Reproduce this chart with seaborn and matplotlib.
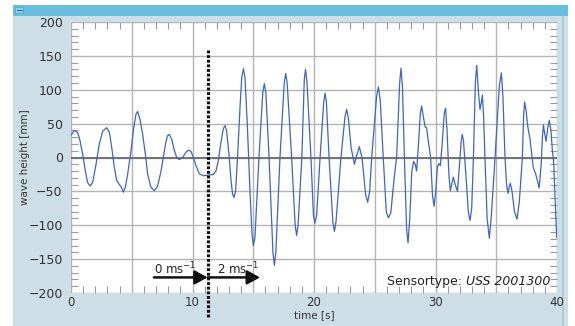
import numpy as np
import pandas as pd
import matplotlib
matplotlib.use("Agg")
import matplotlib.pyplot as plt
import seaborn as sns
from matplotlib.patches import Rectangle
from matplotlib.lines import Line2D
from matplotlib.ticker import MultipleLocator, FuncFormatter

# ---------------- data ----------------
time_s = [0.0, 0.27, 0.55, 0.74, 0.96, 1.18, 1.37, 1.56, 1.78, 2.06, 2.33, 2.61, 2.94, 3.16, 3.35,
          3.57, 3.76, 3.98, 4.12, 4.31, 4.47, 4.66, 4.94, 5.16, 5.35, 5.49, 5.68, 5.90, 6.12, 6.31,
          6.58, 6.86, 7.13, 7.41, 7.60, 7.80, 7.94, 8.09, 8.29, 8.48, 8.70, 8.92, 9.19, 9.47, 9.66,
          9.88, 10.07, 10.29, 10.56, 10.89, 11.30, 11.71, 11.93, 12.12, 12.32, 12.54, 12.68, 12.81,
          13.00, 13.17, 13.30, 13.42, 13.55, 13.72, 13.91, 14.05, 14.19, 14.32, 14.51, 14.73, 14.90,
          15.01, 15.14, 15.47, 15.78, 15.91, 16.04, 16.30, 16.62, 16.74, 16.86, 17.20, 17.55, 17.67,
          17.79, 18.16, 18.45, 18.57, 18.69, 19.00, 19.20, 19.30, 19.42, 19.75, 19.95, 20.08, 20.22,
          20.50, 20.80, 20.91, 21.02, 21.24, 21.55, 21.68, 21.81, 22.22, 22.55, 22.69, 22.83, 23.05,
          23.33, 23.50, 23.73, 23.95, 24.25, 24.42, 24.58, 24.75, 25.15, 25.30, 25.45, 25.70, 25.95,
          26.12, 26.32, 26.60, 26.80, 27.05, 27.16, 27.28, 27.44, 27.62, 27.74, 27.88, 28.05, 28.20,
          28.33, 28.45, 28.60, 28.75, 28.86, 29.00, 29.15, 29.27, 29.40, 29.60, 29.75, 29.88, 30.02,
          30.15, 30.28, 30.40, 30.55, 30.72, 30.83, 30.95, 31.10, 31.22, 31.35, 31.47, 31.62, 31.81,
          32.00, 32.12, 32.20, 32.30, 32.50, 32.70, 32.84, 32.98, 33.12, 33.28, 33.39, 33.52, 33.66,
          33.76, 33.86, 33.96, 34.07, 34.25, 34.43, 34.58, 34.90, 35.25, 35.42, 35.55, 35.72, 35.85,
          35.97, 36.08, 36.16, 36.30, 36.50, 36.71, 36.90, 37.15, 37.25, 37.33, 37.45, 37.60, 37.78,
          37.92, 38.05, 38.24, 38.40, 38.53, 38.70, 38.80, 38.88, 38.98, 39.10, 39.25, 39.37, 39.50,
          39.62, 39.72, 39.84, 39.97, 40.00]
wave_mm = [33, 40, 37, 25, 5, -20, -37, -42, -37, -10, 20, 39, 44, 37, 15,
           -15, -34, -40, -43, -51, -44, -25, 10, 44, 64, 68, 56, 34, 5, -25,
           -44, -49, -42, -20, 0, 22, 32, 34, 27, 12, 0, -3, 0, 8, 11,
           9, 0, -12, -24, -27, -26, -25, -20, -5, 20, 43, 47, 39,
           5, -34, -54, -59, -49, 5, 74, 118, 131, 118, 49, -49, -113,
           -130, -118, 0, 95, 109, 95, 0, -140, -159, -140, 0, 110, 124,
           110, 0, -100, -115, -100, 0, 115, 130, 112, 0, -85, -97, -85,
           0, 82, 95, 82, 0, -95, -109, -95, 0, 60, 71, 58, 15,
           -10, 2, 16, 0, -55, -66, -50, 0, 90, 104, 85, 0, -80,
           -89, -82, -30, 0, 110, 132, 105, 0, -105, -126, -90, -20, -6,
           -10, -20, 20, 65, 76, 60, 45, 44, 25, 0, -55, -72, -50,
           -15, -9, -12, 20, 65, 73, 40, -25, -49, -38, -29, -40, -50,
           -5, 25, 34, 25, -25, -80, -93, -75, 0, 110, 136, 100, 71,
           80, 92, 60, 0, -90, -119, -90, 0, 105, 125, 90, 0, -40,
           -53, -42, -38, -50, -80, -91, -65, 0, 60, 82, 70, 45, 27,
           5, -15, -24, -35, -45, -10, 30, 48, 36, 24, 45, 55, 40,
           10, -5, -59, -118, -105]

x_ticks = [0, 10, 20, 30, 40]
y_ticks = [-200, -150, -100, -50, 0, 50, 100, 150, 200]
switch_time = 11.25
speed_labels = ["0 ms$^{-1}$", "2 ms$^{-1}$"]
sensor_prefix = "Sensortype: "
sensor_name = "USS 2001300"

df = pd.DataFrame({"time": time_s, "height": wave_mm})

# ---------------- figure ----------------
sns.set_theme(style="white")
plt.rcParams["font.family"] = ["DejaVu Sans"]

W, H = 575, 326
fig = plt.figure(figsize=(W / 100, H / 100), dpi=100, facecolor="white")

def fx(px):
    return px / W

def fy(py):
    return 1 - py / H

# window panel + title bar (drawn behind the axes)
fig.patches.append(Rectangle((fx(13), 0), fx(568) - fx(13), fy(5), transform=fig.transFigure,
                             facecolor="#cedee7", edgecolor="none", zorder=-10))
fig.patches.append(Rectangle((fx(13), fy(16)), fx(568) - fx(13), fy(5) - fy(16),
                             transform=fig.transFigure, facecolor="#66bfdf", edgecolor="none", zorder=-9))
fig.patches.append(Rectangle((fx(15), fy(13)), fx(8), fy(7) - fy(13), transform=fig.transFigure,
                             facecolor="#8fd0ea", edgecolor="#4aa6c8", lw=0.5, zorder=-8))
fig.lines.append(Line2D([fx(16.5), fx(21.5)], [fy(10), fy(10)], transform=fig.transFigure,
                        color="#2f6f8a", lw=0.8, zorder=-7))
fig.lines.append(Line2D([fx(563), fx(563)], [0, fy(16)], transform=fig.transFigure,
                        color="#a8c8d8", lw=1.2, zorder=-8))

ax = fig.add_axes([fx(71), fy(293), fx(557) - fx(71), fy(22) - fy(293)])
ax.set_zorder(5)
ax.set_facecolor("white")

sns.lineplot(data=df, x="time", y="height", ax=ax, color="#3f64c2", lw=0.9,
             estimator=None, sort=False, zorder=3)

ax.set_xlim(0, 40)
ax.set_ylim(-200, 200)

ax.xaxis.set_major_locator(MultipleLocator(5))
ax.xaxis.set_minor_locator(MultipleLocator(1))
ax.xaxis.set_major_formatter(FuncFormatter(lambda v, p: f"{int(round(v))}" if int(round(v)) in x_ticks else ""))
ax.set_yticks(y_ticks)
ax.yaxis.set_minor_locator(MultipleLocator(10))

ax.grid(True, which="major", color="#b4b4b4", lw=1.0, zorder=1)
ax.axhline(0, color="#6a6a6a", lw=1.3, zorder=2)

for s in ax.spines.values():
    s.set_visible(False)

ax.tick_params(which="major", length=0, labelsize=9, labelcolor="#333333")
ax.tick_params(axis="y", which="major", pad=6)
ax.tick_params(axis="x", which="major", pad=2, labelsize=8.5)
ax.tick_params(which="minor", direction="in", length=5, width=0.8, color="#9a9a9a",
               top=True, bottom=True, left=True, right=True)

ax.set_xlabel("time [s]", fontsize=7.5, color="#333333")
ax.set_ylabel("wave height [mm]", fontsize=7.5, color="#333333")
ax.xaxis.set_label_coords(0.5, -0.064)
ax.yaxis.set_label_coords((30 - 71) / 486, 0.5)

# wind switch marker
ax.plot([switch_time, switch_time], [158.7, -235], color="#111111", lw=2.3,
        linestyle=(0, (0.9, 0.55)), clip_on=False, zorder=5)

arrow_kw = dict(arrowstyle="-|>,head_length=0.55,head_width=0.3", color="#111111", lw=1.8,
                mutation_scale=14, shrinkA=0, shrinkB=0)
ax.annotate("", xy=(switch_time, -177), xytext=(6.83, -177), arrowprops=arrow_kw, zorder=6)
ax.annotate("", xy=(15.56, -177), xytext=(switch_time, -177), arrowprops=arrow_kw, zorder=6)
ax.text(6.83, -164, speed_labels[0], fontsize=8.5, color="#222222", va="center", ha="left")
ax.text(12.02, -164, speed_labels[1], fontsize=8.5, color="#222222", va="center", ha="left")

name_txt = ax.text(0.9856, 0.0406, sensor_name, transform=ax.transAxes, fontsize=9,
                   style="italic", color="#222222", ha="right", va="center")
ax.annotate(sensor_prefix, xy=(0, 0.5), xycoords=name_txt, fontsize=9, color="#222222",
            ha="right", va="center")

fig.savefig("out.png", dpi=100, facecolor="white")
